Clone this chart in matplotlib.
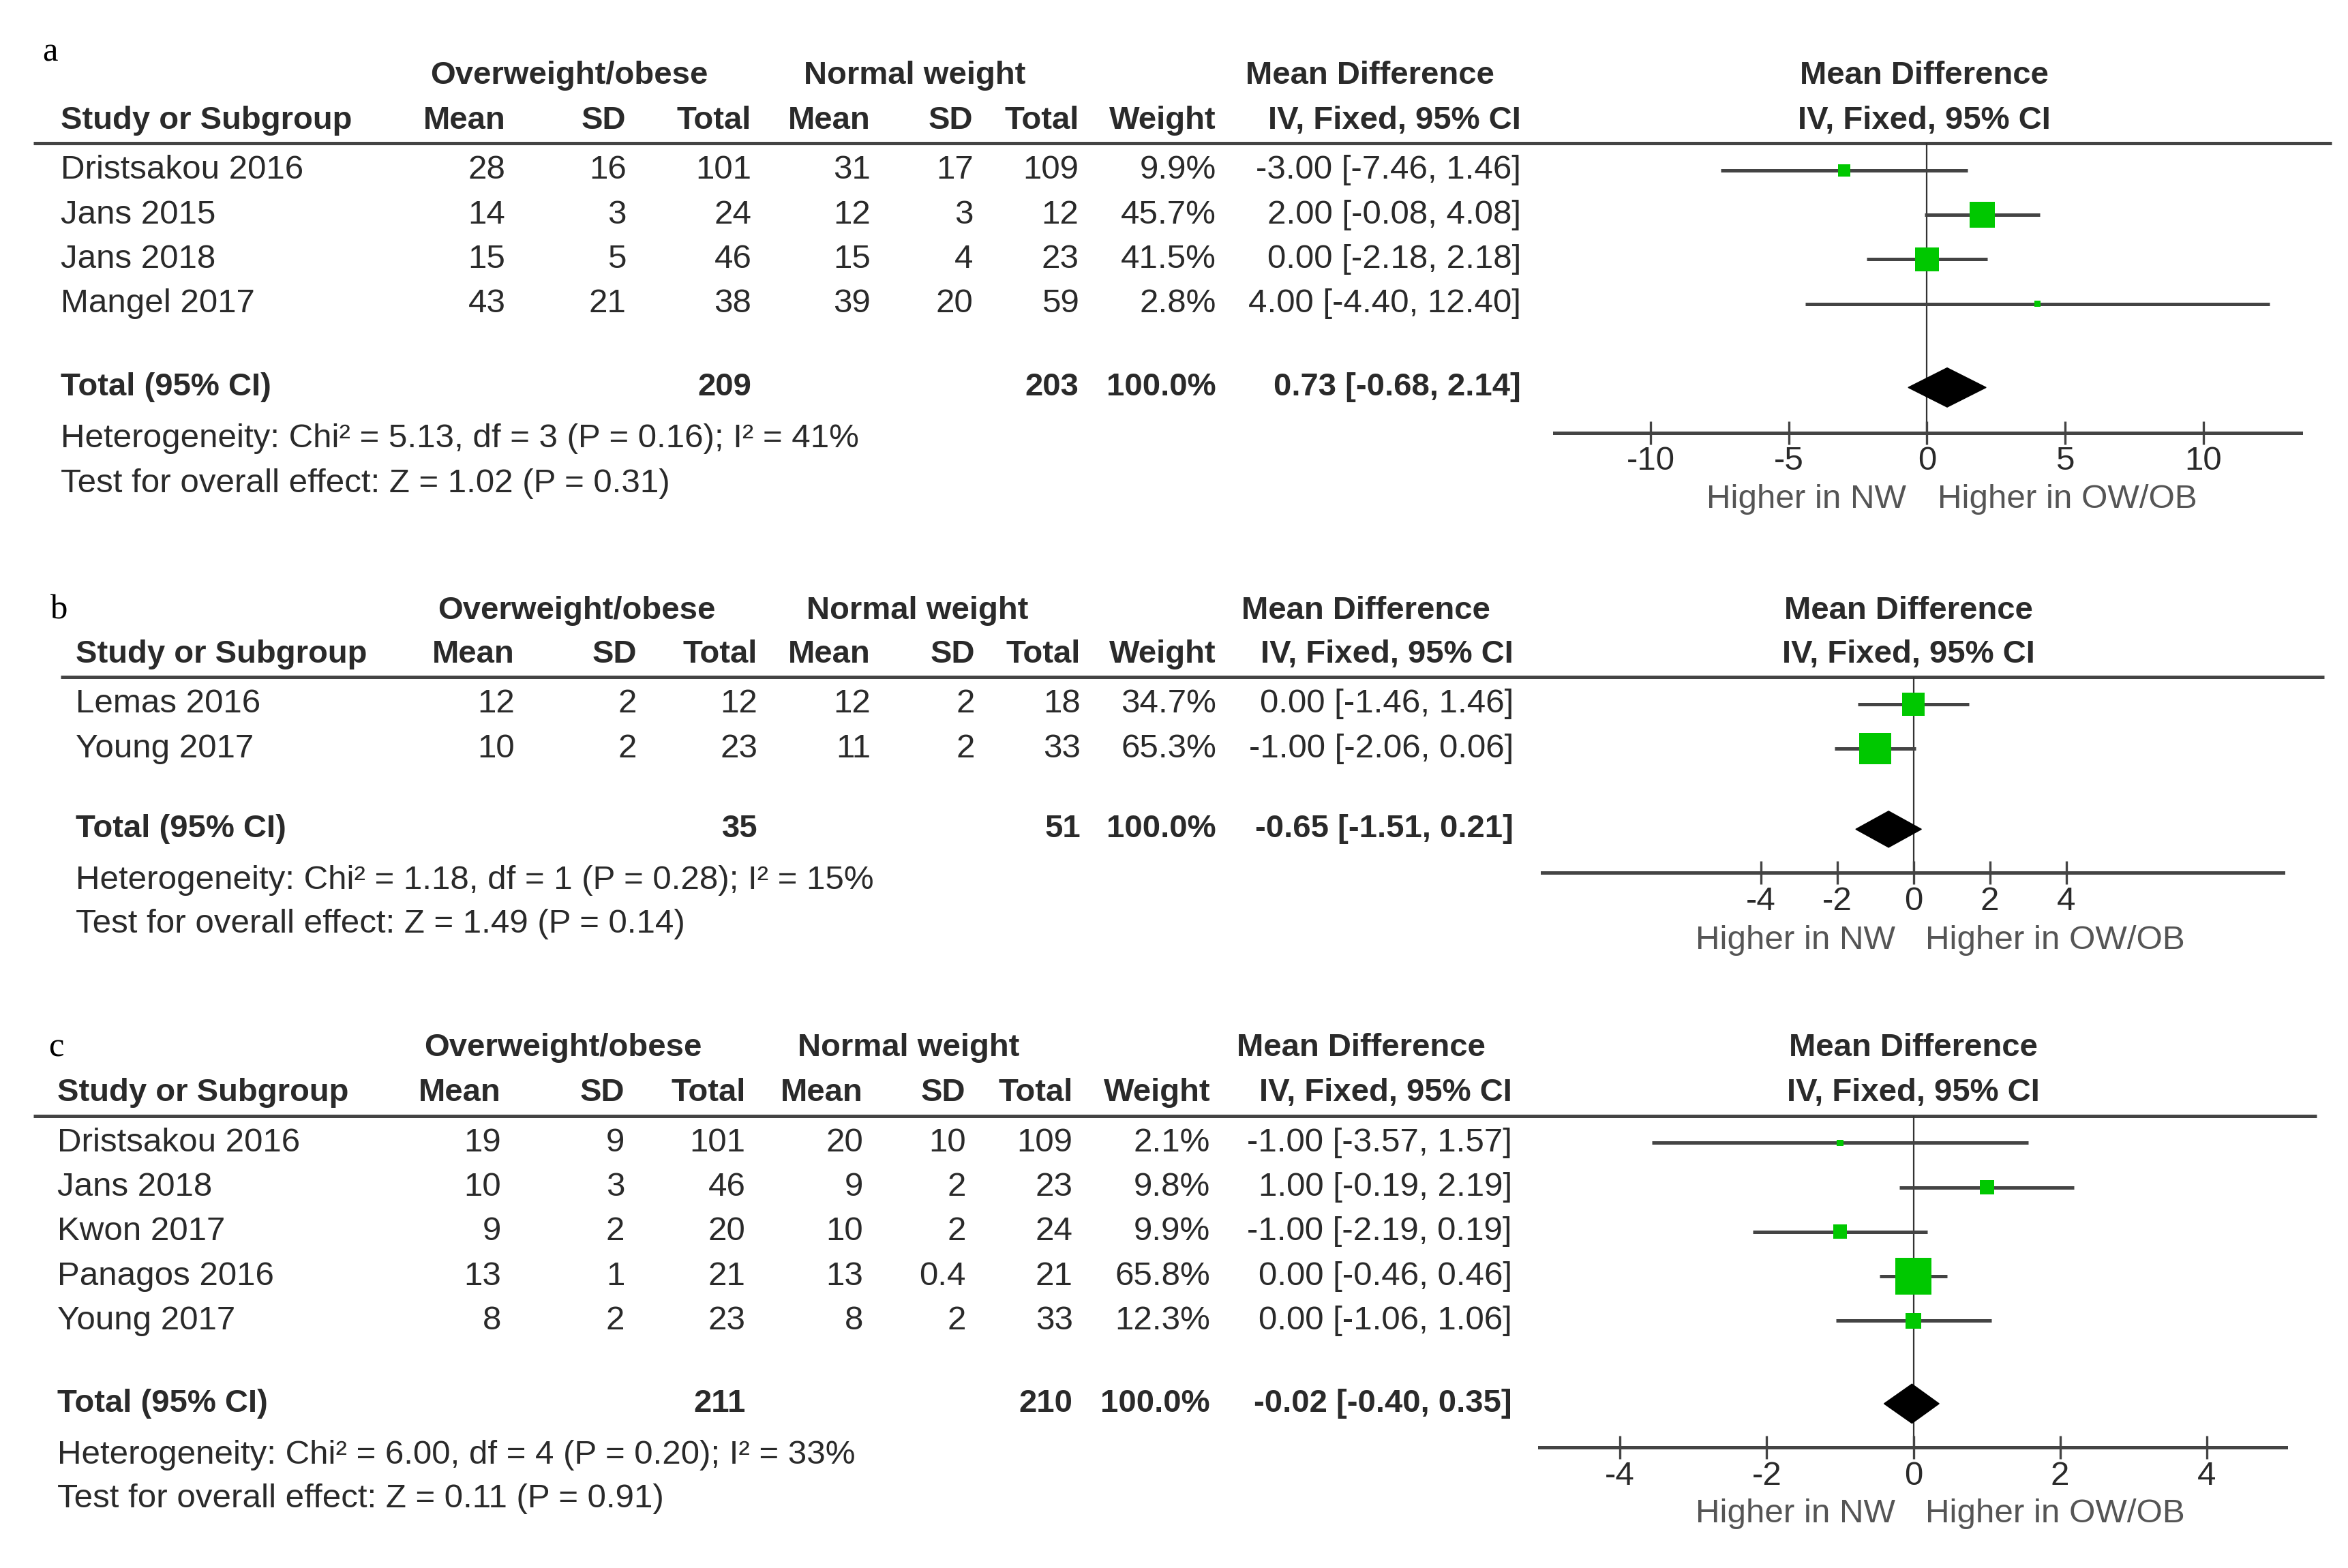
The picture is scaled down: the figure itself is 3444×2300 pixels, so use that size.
import math
import matplotlib
matplotlib.use('Agg')
import matplotlib.pyplot as plt
from matplotlib.patches import Polygon

plt.rcParams['font.family'] = ['Liberation Sans', 'DejaVu Sans']
plt.rcParams['axes.unicode_minus'] = False

# ---------------- data ----------------
# Panel a
a_studies = ['Dristsakou 2016', 'Jans 2015', 'Jans 2018', 'Mangel 2017']
a_ow_mean = [28, 14, 15, 43]
a_ow_sd = [16, 3, 5, 21]
a_ow_n = [101, 24, 46, 38]
a_nw_mean = [31, 12, 15, 39]
a_nw_sd = [17, 3, 4, 20]
a_nw_n = [109, 12, 23, 59]
a_weight = [9.9, 45.7, 41.5, 2.8]
a_md = [-3.00, 2.00, 0.00, 4.00]
a_lo = [-7.46, -0.08, -2.18, -4.40]
a_hi = [1.46, 4.08, 2.18, 12.40]
a_tot_n = [209, 203]
a_tot_w = 100.0
a_tot_md = [0.73, -0.68, 2.14]
a_het = 'Heterogeneity: Chi\u00b2 = 5.13, df = 3 (P = 0.16); I\u00b2 = 41%'
a_test = 'Test for overall effect: Z = 1.02 (P = 0.31)'
a_ticks = [-10, -5, 0, 5, 10]

# Panel b
b_studies = ['Lemas 2016', 'Young 2017']
b_ow_mean = [12, 10]
b_ow_sd = [2, 2]
b_ow_n = [12, 23]
b_nw_mean = [12, 11]
b_nw_sd = [2, 2]
b_nw_n = [18, 33]
b_weight = [34.7, 65.3]
b_md = [0.00, -1.00]
b_lo = [-1.46, -2.06]
b_hi = [1.46, 0.06]
b_tot_n = [35, 51]
b_tot_w = 100.0
b_tot_md = [-0.65, -1.51, 0.21]
b_het = 'Heterogeneity: Chi\u00b2 = 1.18, df = 1 (P = 0.28); I\u00b2 = 15%'
b_test = 'Test for overall effect: Z = 1.49 (P = 0.14)'
b_ticks = [-4, -2, 0, 2, 4]

# Panel c
c_studies = ['Dristsakou 2016', 'Jans 2018', 'Kwon 2017', 'Panagos 2016', 'Young 2017']
c_ow_mean = [19, 10, 9, 13, 8]
c_ow_sd = [9, 3, 2, 1, 2]
c_ow_n = [101, 46, 20, 21, 23]
c_nw_mean = [20, 9, 10, 13, 8]
c_nw_sd = [10, 2, 2, 0.4, 2]
c_nw_n = [109, 23, 24, 21, 33]
c_weight = [2.1, 9.8, 9.9, 65.8, 12.3]
c_md = [-1.00, 1.00, -1.00, 0.00, 0.00]
c_lo = [-3.57, -0.19, -2.19, -0.46, -1.06]
c_hi = [1.57, 2.19, 0.19, 0.46, 1.06]
c_tot_n = [211, 210]
c_tot_w = 100.0
c_tot_md = [-0.02, -0.40, 0.35]
c_het = 'Heterogeneity: Chi\u00b2 = 6.00, df = 4 (P = 0.20); I\u00b2 = 33%'
c_test = 'Test for overall effect: Z = 0.11 (P = 0.91)'
c_ticks = [-4, -2, 0, 2, 4]

panel_labels = ['a', 'b', 'c']
group_headers = ['Overweight/obese', 'Normal weight', 'Mean Difference']
col_headers = ['Mean', 'SD', 'Total', 'Mean', 'SD', 'Total', 'Weight', 'IV, Fixed, 95% CI']
axis_labels = ['Higher in NW', 'Higher in OW/OB']

# ---------------- layout (reference units 1556 x 1040) ----------------
W, H = 1556.0, 1040.0
FS_B = 34      # bold header text
FS = 35.5      # normal text
TXT = '#2a2a2a'
LINE = '#444444'
GREEN = '#00C800'
ROWSTEP = 29.5
PX2PT = 2.213 * 0.72   # reference unit -> points

layouts = [
    dict(lab=(28, 35), h1=50, h2=80, line_y=95, line_x=(22, 1545), row0=113,
         tot_y=257, het_y=291, test_y=321, study_x=40,
         rights=[335, 415, 498, 577, 645, 715, 806, 1008], h1c=[377, 606, 908],
         fc=1275, x0=1030, x1=1525, zero=1277, scale=18.3, axis_y=287,
         lbl_y=331, lblc=(1197, 1370), k=2.5, dh=13),
    dict(lab=(33, 405), h1=405, h2=434, line_y=449, line_x=(40, 1540), row0=467,
         tot_y=550, het_y=584, test_y=613, study_x=50,
         rights=[341, 422, 502, 577, 646, 716, 806, 1003], h1c=[382, 608, 905],
         fc=1265, x0=1022, x1=1513, zero=1268, scale=25.3, axis_y=579,
         lbl_y=624, lblc=(1190, 1362), k=2.6, dh=12),
    dict(lab=(32, 695), h1=695, h2=725, line_y=740, line_x=(22, 1535), row0=758,
         tot_y=931, het_y=965, test_y=994, study_x=38,
         rights=[332, 414, 494, 572, 640, 711, 802, 1002], h1c=[373, 602, 902],
         fc=1268, x0=1020, x1=1515, zero=1268, scale=48.6, axis_y=960,
         lbl_y=1004, lblc=(1190, 1362), k=3.0, dh=13),
]

panels = [
    (a_studies, a_ow_mean, a_ow_sd, a_ow_n, a_nw_mean, a_nw_sd, a_nw_n, a_weight,
     a_md, a_lo, a_hi, a_tot_n, a_tot_w, a_tot_md, a_het, a_test, a_ticks),
    (b_studies, b_ow_mean, b_ow_sd, b_ow_n, b_nw_mean, b_nw_sd, b_nw_n, b_weight,
     b_md, b_lo, b_hi, b_tot_n, b_tot_w, b_tot_md, b_het, b_test, b_ticks),
    (c_studies, c_ow_mean, c_ow_sd, c_ow_n, c_nw_mean, c_nw_sd, c_nw_n, c_weight,
     c_md, c_lo, c_hi, c_tot_n, c_tot_w, c_tot_md, c_het, c_test, c_ticks),
]

fig = plt.figure(figsize=(34.44, 23.0), dpi=100)
fig.patch.set_facecolor('white')
bg = fig.add_axes([0, 0, 1, 1])
bg.set_xlim(0, W)
bg.set_ylim(H, 0)
bg.axis('off')


def fmt(v):
    return f'{v:g}'


def ci_text(m, lo, hi):
    return f'{m:.2f} [{lo:.2f}, {hi:.2f}]'


for lab, L, P in zip(panel_labels, layouts, panels):
    (studies, owm, ows, own, nwm, nws, nwn, wt, md, lo, hi,
     tot_n, tot_w, tot_md, het, test, ticks) = P

    bg.text(L['lab'][0], L['lab'][1], lab, fontsize=FS + 1, family='Liberation Serif',
            color='black', ha='left', va='center')

    # group headers
    for txt, cx in zip(group_headers, L['h1c']):
        bg.text(cx, L['h1'], txt, fontsize=FS_B, weight='bold', color=TXT,
                ha='center', va='center')
    bg.text(L['fc'], L['h1'], group_headers[2], fontsize=FS_B, weight='bold', color=TXT,
            ha='center', va='center')

    # column headers
    bg.text(L['study_x'], L['h2'], 'Study or Subgroup', fontsize=FS_B, weight='bold',
            color=TXT, ha='left', va='center')
    for txt, rx in zip(col_headers, L['rights']):
        bg.text(rx, L['h2'], txt, fontsize=FS_B, weight='bold', color=TXT,
                ha='right', va='center')
    bg.text(L['fc'], L['h2'], col_headers[-1], fontsize=FS_B, weight='bold', color=TXT,
            ha='center', va='center')

    bg.plot(L['line_x'], [L['line_y'], L['line_y']], color=LINE, lw=3.6,
            solid_capstyle='butt')

    ys = [L['row0'] + i * ROWSTEP for i in range(len(studies))]
    for i, y in enumerate(ys):
        bg.text(L['study_x'], y, studies[i], fontsize=FS, color=TXT, ha='left', va='center')
        vals = [fmt(owm[i]), fmt(ows[i]), fmt(own[i]), fmt(nwm[i]), fmt(nws[i]),
                fmt(nwn[i]), f'{wt[i]:.1f}%', ci_text(md[i], lo[i], hi[i])]
        for v, rx in zip(vals, L['rights']):
            bg.text(rx, y, v, fontsize=FS, color=TXT, ha='right', va='center')

    ty = L['tot_y']
    bg.text(L['study_x'], ty, 'Total (95% CI)', fontsize=FS_B, weight='bold', color=TXT,
            ha='left', va='center')
    tvals = [(str(tot_n[0]), L['rights'][2]), (str(tot_n[1]), L['rights'][5]),
             (f'{tot_w:.1f}%', L['rights'][6]),
             (ci_text(*tot_md), L['rights'][7])]
    for v, rx in tvals:
        bg.text(rx, ty, v, fontsize=FS_B, weight='bold', color=TXT, ha='right', va='center')
    bg.text(L['study_x'], L['het_y'], het, fontsize=FS, color=TXT, ha='left', va='center')
    bg.text(L['study_x'], L['test_y'], test, fontsize=FS, color=TXT, ha='left', va='center')

    # forest plot axes
    x0, x1, zero, sc = L['x0'], L['x1'], L['zero'], L['scale']
    ax = fig.add_axes([x0 / W, 1 - L['axis_y'] / H, (x1 - x0) / W,
                       (L['axis_y'] - L['line_y']) / H])
    ax.set_xlim((x0 - zero) / sc, (x1 - zero) / sc)
    ax.set_ylim(L['axis_y'], L['line_y'])
    ax.patch.set_alpha(0)
    for s in ['top', 'left', 'right']:
        ax.spines[s].set_visible(False)
    ax.spines['bottom'].set_linewidth(3.6)
    ax.spines['bottom'].set_color(LINE)
    ax.set_yticks([])
    ax.set_xticks(ticks)
    ax.set_xticklabels([str(t) for t in ticks])
    ax.tick_params(axis='x', direction='inout', length=24, width=2.4, color=LINE,
                   labelsize=FS, labelcolor=TXT, pad=2)
    ax.axvline(0, color='#333333', lw=1.6, zorder=1)
    ax.hlines(ys, lo, hi, color=LINE, lw=3.6, zorder=2)
    sizes = [(L['k'] * math.sqrt(w) * PX2PT) ** 2 for w in wt]
    ax.scatter(md, ys, s=sizes, marker='s', color=GREEN, linewidths=0, zorder=3,
               clip_on=False)
    m, l, h = tot_md
    ax.add_patch(Polygon([(l, ty), (m, ty - L['dh']), (h, ty), (m, ty + L['dh'])],
                         closed=True, facecolor='black', edgecolor='black', lw=1,
                         zorder=4, clip_on=False))

    bg.text(L['lblc'][0], L['lbl_y'], axis_labels[0], fontsize=FS, color='#555555',
            ha='center', va='center')
    bg.text(L['lblc'][1], L['lbl_y'], axis_labels[1], fontsize=FS, color='#555555',
            ha='center', va='center')

fig.savefig('out.png', dpi=100, facecolor='white')
